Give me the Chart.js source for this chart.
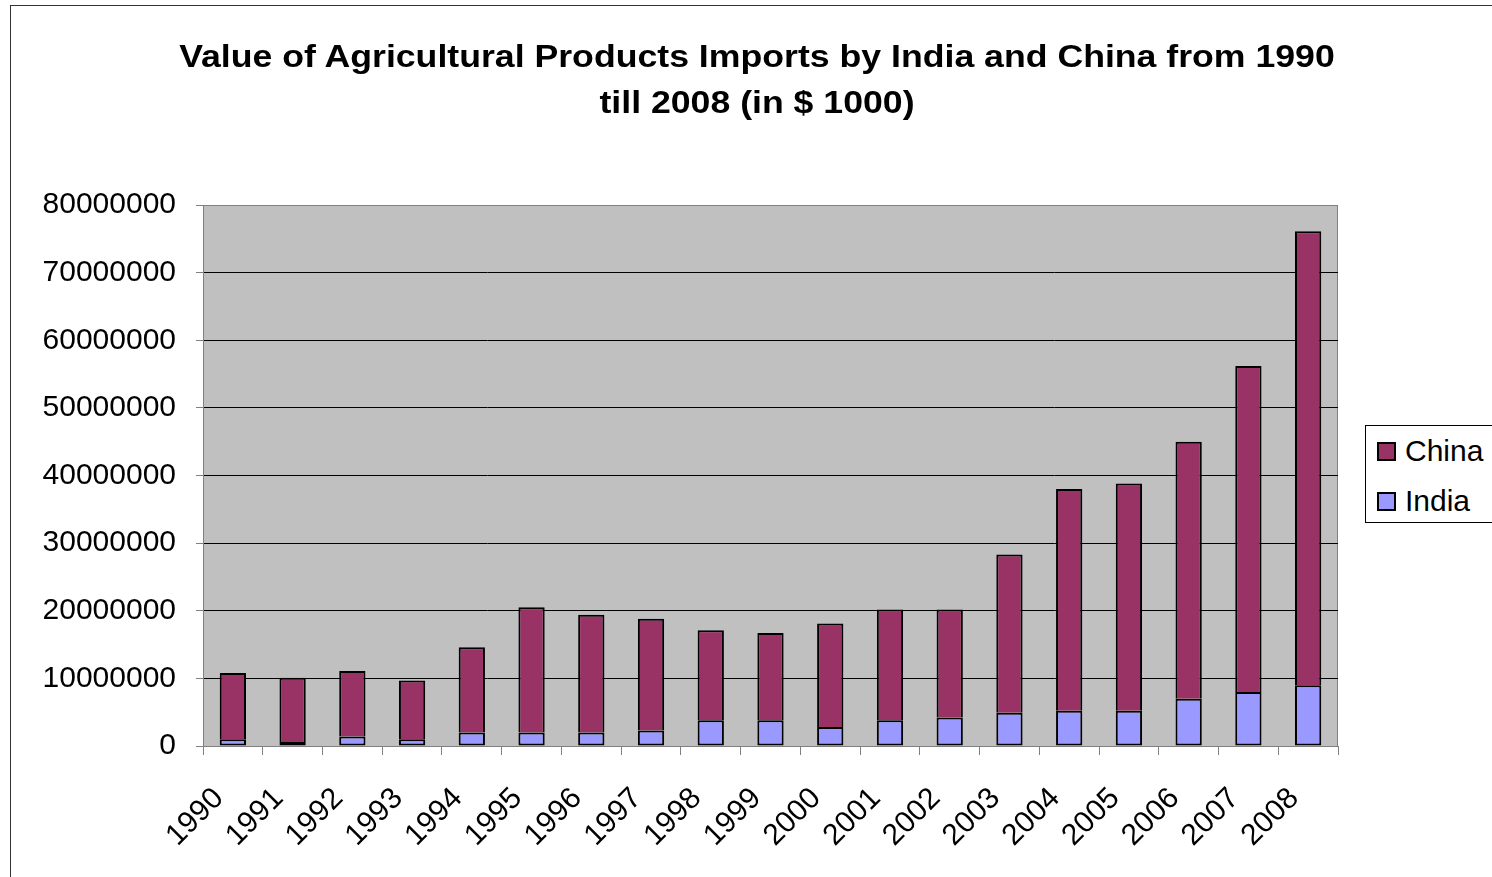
<!DOCTYPE html>
<html>
<head>
<meta charset="utf-8">
<title>Agricultural Products Imports</title>
<script src="https://cdn.jsdelivr.net/npm/chart.js@4.4.1/dist/chart.umd.min.js"></script>
<style>
  body { margin: 0; background: #fff; overflow: hidden; }
  #wrap { position: relative; width: 1492px; height: 877px; overflow: hidden; }
  #frame {
    position: absolute; left: 10px; top: 5px; width: 1500px; height: 900px;
    border: 1px solid #333; box-sizing: border-box;
  }
  #title {
    position: absolute; left: 0; top: 34px; width: 1514px; text-align: center;
    font-family: "Liberation Sans", Arial, sans-serif; font-weight: bold;
    font-size: 31px; line-height: 46px; color: #000;
    transform: scaleX(1.15); transform-origin: 757px 0;
  }
  #legend {
    position: absolute; left: 1365px; top: 425px; width: 140px; height: 98px;
    border: 1px solid #000; box-sizing: border-box; background: #fff;
    font-family: "Liberation Sans", Arial, sans-serif; font-size: 30px; color: #000;
  }
  #legend .item { position: absolute; left: 11px; height: 30px; line-height: 30px; }
  #legend .box {
    display: inline-block; width: 15px; height: 15px; border: 2px solid #000;
    vertical-align: middle; margin-right: 9px; position: relative; top: -2px;
  }
  canvas { position: absolute; left: 0; top: 0; }
</style>
</head>
<body>
<div id="wrap">
  <div id="frame"></div>
  <canvas id="importsChart" width="1492" height="877"></canvas>
  <div id="title">Value of Agricultural Products Imports by India and China from 1990<br>till 2008 (in $ 1000)</div>
  <div id="legend">
    <div class="item" style="top: 10px;"><span class="box" style="background:#993366"></span>China</div>
    <div class="item" style="top: 60px;"><span class="box" style="background:#9999FF"></span>India</div>
  </div>
</div>
<script>
var years = ["1990", "1991", "1992", "1993", "1994", "1995", "1996", "1997", "1998", "1999",
  "2000", "2001", "2002", "2003", "2004", "2005", "2006", "2007", "2008"];

// values in $ 1000
var indiaImports = [1000000, 600000, 1400000, 1000000, 2000000, 2000000, 2000000, 2300000, 3800000, 3800000,
  2800000, 3800000, 4200000, 4900000, 5200000, 5200000, 7000000, 8000000, 9000000];
var chinaImports = [9800000, 9500000, 9700000, 8700000, 12600000, 18500000, 17400000, 16500000, 13300000, 12900000,
  15300000, 16400000, 16000000, 23400000, 32800000, 33600000, 38000000, 48200000, 67100000];

var yMax = 80000000;
var yStep = 10000000;

var fontFamily = '"Liberation Sans", Arial, sans-serif';

// grey plot area with a thin border, like the spreadsheet chart
var plotBackground = {
  id: "plotBackground",
  beforeDraw: function (chart) {
    var ctx = chart.ctx;
    var a = chart.chartArea;
    ctx.save();
    ctx.fillStyle = "#C0C0C0";
    ctx.fillRect(a.left, a.top, a.right - a.left, a.bottom - a.top);
    ctx.strokeStyle = "#808080";
    ctx.lineWidth = 1;
    ctx.strokeRect(a.left + 0.5, a.top + 0.5, a.right - a.left - 1, a.bottom - a.top);
    ctx.restore();
  },
};

document.addEventListener("DOMContentLoaded", function () {
  var ctx = document.getElementById("importsChart").getContext("2d");
  new Chart(ctx, {
    type: "bar",
    data: {
      labels: years,
      datasets: [
        {
          label: "India",
          data: indiaImports,
          backgroundColor: "#9999FF",
          borderColor: "#000000",
          borderWidth: 2,
          borderSkipped: false,
          barPercentage: 0.44,
          categoryPercentage: 1,
        },
        {
          label: "China",
          data: chinaImports,
          backgroundColor: "#993366",
          borderColor: "#000000",
          borderWidth: 2,
          barPercentage: 0.44,
          categoryPercentage: 1,
        },
      ],
    },
    options: {
      responsive: false,
      animation: false,
      layout: {
        padding: { left: 0, right: 154, top: 205, bottom: 0 },
      },
      plugins: {
        legend: { display: false },
        tooltip: { enabled: false },
      },
      scales: {
        x: {
          stacked: true,
          grid: {
            drawOnChartArea: false,
            color: "#808080",
            tickLength: 9,
          },
          border: { color: "#808080" },
          ticks: {
            color: "#000",
            font: { family: fontFamily, size: 30 },
            minRotation: 45,
            maxRotation: 45,
            autoSkip: false,
            padding: 26,
            labelOffset: -14,
          },
          afterFit: function (scale) {
            scale.height = 131;
          },
        },
        y: {
          stacked: true,
          min: 0,
          max: yMax,
          grid: {
            color: function (c) {
              return c.tick && c.tick.value === yMax ? "#808080" : "#000000";
            },
            tickColor: "#808080",
            tickLength: 7,
          },
          border: { color: "#808080" },
          ticks: {
            stepSize: yStep,
            color: "#000",
            padding: 20,
            font: { family: fontFamily, size: 30 },
            callback: function (value) {
              return String(value);
            },
          },
          afterFit: function (scale) {
            scale.width = 203;
          },
        },
      },
    },
    plugins: [plotBackground],
  });
});
</script>
</body>
</html>
